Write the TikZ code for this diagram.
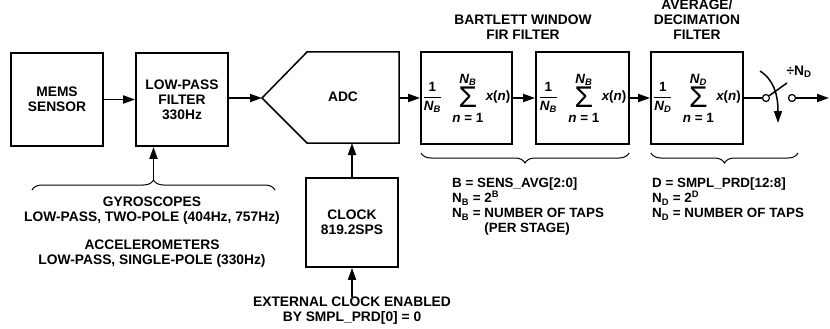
\documentclass[tikz,border=0pt]{standalone}
\usepackage{amsmath}
\usepackage{fontspec}
\setmainfont{Liberation Sans}
\usetikzlibrary{arrows.meta,positioning,decorations.pathreplacing}

% averaging sum shown inside the filter blocks
\newcommand{\avgsum}[1]{$\displaystyle
  \genfrac{}{}{1.2pt}{}{\text{1}}{\textit{N}_{\textit{#1}}}\;\;
  \mathop{\vcenter{\hbox{\fontsize{30}{30}\mdseries\selectfont Σ}}}\limits^{\displaystyle\textit{N}_{\textit{#1}}\rule[-2pt]{0pt}{2pt}}_{\displaystyle\textit{n}\text{ = 1}\rule{0pt}{12pt}}
  \textit{x}\text{(}\textit{n}\text{)}$}

\begin{document}
\begin{tikzpicture}[
    x=1pt, y=-1pt,
    font=\fontsize{13.8}{14.8}\selectfont\bfseries,
    box/.style={rectangle, draw, line width=1.8pt, inner sep=0pt, align=center},
    edge/.style={-{Triangle[length=12pt,width=8pt]}, line width=1.8pt},
    bracket/.style={decorate, decoration={brace, amplitude=10pt}, line width=1pt},
    note/.style={align=center, inner sep=0pt},
    pole/.style={circle, draw, fill=white, line width=1.2pt, minimum size=7pt, inner sep=0pt}
]
    \useasboundingbox (0,0) rectangle (830,329);

    % main signal chain
    \node[box, minimum width=92pt, minimum height=93pt] (mems) at (57,99.5) {MEMS\\SENSOR};
    \node[box, minimum width=92pt, minimum height=93pt] (lpf) at (182,99.5) {LOW-PASS\\FILTER\\330Hz};

    \coordinate (adcin) at (262,98);
    \coordinate (adcbot) at (352,143);
    \draw[line width=1.5pt] (adcin) -- (307,52) -- (399,52) -- (399,143) -- (307,143) -- cycle;
    \node (adc) at (343,97) {ADC};
    \coordinate (adcout) at (399,98);

    \node[box, minimum width=91pt, minimum height=92pt, font=\fontsize{13.4}{14}\selectfont\bfseries] (fir1) at (466.5,98) {\avgsum{B}};
    \node[box, minimum width=93pt, minimum height=92pt, font=\fontsize{13.4}{14}\selectfont\bfseries] (fir2) at (582.5,98) {\avgsum{B}};
    \node[box, minimum width=92pt, minimum height=92pt, font=\fontsize{13.4}{14}\selectfont\bfseries] (dec) at (697,98) {\avgsum{D}};

    \node[pole] (swa) at (766,98) {};
    \node[pole] (swb) at (792,98) {};
    \coordinate (lever) at (787,83);
    \coordinate (out) at (829,98);
    \coordinate (arcstart) at (760,71);
    \coordinate (arcend) at (778,123);
    \node[note] (ratio) at (799,72) {÷N\textsubscript{D}};

    \draw[edge] (mems) -- (lpf);
    \draw[edge] (lpf.east |- adcin) -- (adcin);
    \draw[edge] (adcout) -- (fir1.west |- adcout);
    \draw[edge] (fir1) -- (fir2);
    \draw[edge] (fir2) -- (dec);
    \draw[line width=1.5pt] (dec.east |- swa) -- (swa);
    \draw[line width=1.5pt] (swa) -- (lever);
    \draw[edge] (swb) -- (out);
    \draw[edge, line width=1.5pt] (arcstart) .. controls (774,80) and (778,95) .. (arcend);

    % titles
    \node[note] (firtitle) at (523,27) {BARTLETT WINDOW\\FIR FILTER};
    \node[note] (dectitle) at (697,19.5) {AVERAGE/\\DECIMATION\\FILTER};

    % filter options below the low-pass filter
    \draw[bracket] (32,190) -- (275,190);
    \coordinate (lpftip) at (153.5,180);
    \draw[edge] (lpftip) -- (lpf.south -| lpftip);
    \node[note] (gyro) at (152,211) {GYROSCOPES\\LOW-PASS, TWO-POLE (404Hz, 757Hz)};
    \node[note] (accel) at (152,254) {ACCELEROMETERS\\LOW-PASS, SINGLE-POLE (330Hz)};

    % clock
    \node[box, minimum width=92pt, minimum height=89pt] (clock) at (352,222.5) {CLOCK\\819.2SPS};
    \node[note] (extclk) at (352,311) {EXTERNAL CLOCK ENABLED\\BY SMPL\_PRD[0] = 0};
    \draw[edge] (clock) -- (adcbot);
    \draw[edge] (extclk.north) -- (clock.south);

    % register settings
    \draw[bracket] (629,153) -- (421,153);
    \draw[bracket] (798,153) -- (651,153);
    \node[note, align=left, anchor=north west, font=\fontsize{13.4}{15}\selectfont\bfseries] (bnote) at (452,178)
        {B = SENS\_AVG[2:0]\\N\textsubscript{B} = 2\textsuperscript{B}\\N\textsubscript{B} = NUMBER OF TAPS\\\phantom{N\textsubscript{B} = }(PER STAGE)};
    \node[note, align=left, anchor=north west, font=\fontsize{13.4}{15}\selectfont\bfseries] (dnote) at (652,178)
        {D = SMPL\_PRD[12:8]\\N\textsubscript{D} = 2\textsuperscript{D}\\N\textsubscript{D} = NUMBER OF TAPS};
\end{tikzpicture}
\end{document}
